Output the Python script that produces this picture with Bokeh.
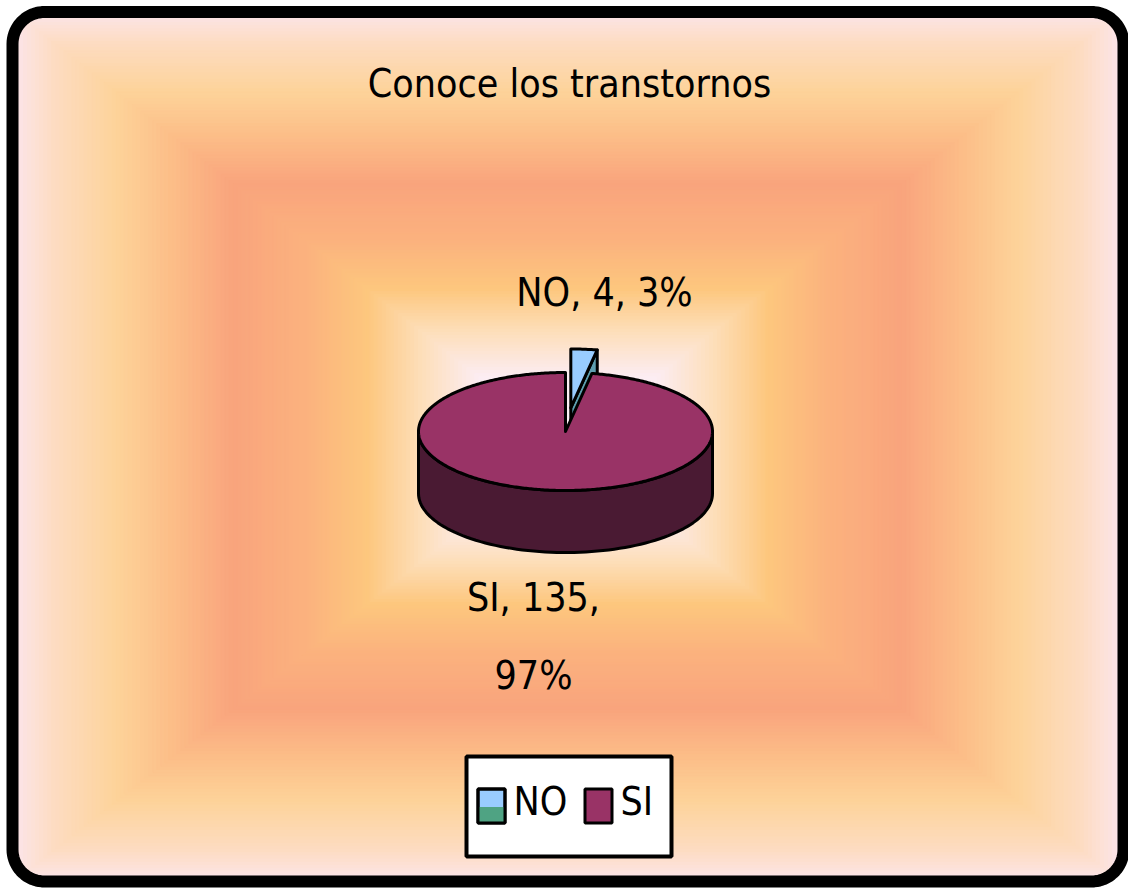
import numpy as np
from bokeh.plotting import figure
from bokeh.models import Range1d, ColumnDataSource
from bokeh.core.properties import value
from bokeh.embed import file_html
from bokeh.resources import INLINE

# ---------------- data ----------------
title_text = "Conoce los transtornos"
categories = ["NO", "SI"]
counts = [4, 135]
top_colors = ["#99CCFF", "#993366"]
side_colors = ["#5E9FB0", "#4A1A33"]
explode = [0.4, 0.0]

# ---------------- figure ----------------
W, H = 1128, 888
p = figure(width=W, height=H, x_range=Range1d(0, W), y_range=Range1d(H, 0),
           output_backend="svg", toolbar_location=None, min_border=0,
           x_axis_location=None, y_axis_location=None)
p.xgrid.visible = False
p.ygrid.visible = False
p.outline_line_color = None
p.background_fill_color = "white"
p.border_fill_color = "white"

FONT = value("DejaVu Sans Condensed, Liberation Sans")
FS = "39px"

# ---------------- rectangular gradient background ----------------
def hex2rgb(h):
    h = h.lstrip("#")
    return np.array([int(h[i:i + 2], 16) for i in (0, 2, 4)], dtype=float)

stop_t = [0.0, 0.16, 0.27, 0.36, 0.47, 0.60, 0.71, 0.81, 0.92, 1.0]
stop_c = ["#FDF2F8", "#FCEDF3", "#FDDDB6", "#FDC77E", "#FBB27E", "#F9A47D",
          "#FCBE88", "#FDD39A", "#FDDCC2", "#FCE6F0"]
stop_rgb = np.array([hex2rgb(c) for c in stop_c])
bcx, bcy, bhw, bhh = 567, 446, 560, 440
ts = np.linspace(1.0, 0.0, 140)
cols = []
for t in ts:
    rgb = [np.interp(t, stop_t, stop_rgb[:, k]) for k in range(3)]
    cols.append("#%02x%02x%02x" % tuple(int(round(v)) for v in rgb))
bg = ColumnDataSource(dict(left=bcx - ts * bhw, right=bcx + ts * bhw,
                           top=bcy - ts * bhh, bottom=bcy + ts * bhh, color=cols))
p.quad(left="left", right="right", top="top", bottom="bottom", fill_color="color",
       line_color="color", line_width=1, source=bg)

# ---------------- rounded frame ----------------
L, R, T, B, rad = 12, 1123, 11.5, 881, 32

def arc(xc, yc, r, a0, a1, n=20):
    a = np.radians(np.linspace(a0, a1, n))
    return list(xc + r * np.cos(a)), list(yc + r * np.sin(a))

corners = [(L + rad, T + rad, 180, 270, -1, -1),
           (R - rad, T + rad, 270, 360, 1, -1),
           (R - rad, B - rad, 0, 90, 1, 1),
           (L + rad, B - rad, 90, 180, -1, 1)]
corner_x, corner_y = [], []
for xc, yc, a0, a1, sx, sy in corners:
    ax, ay = arc(xc, yc, rad, a0, a1)
    ex = xc + sx * (rad + 30)
    ey = yc + sy * (rad + 30)
    st_x, st_y, end_x, end_y = ax[0], ay[0], ax[-1], ay[-1]
    poly_x = list(ax)
    poly_y = list(ay)
    poly_x += [end_x if abs(end_x - xc) < 1 else ex, ex, st_x if abs(st_x - xc) < 1 else ex]
    poly_y += [end_y if abs(end_y - yc) < 1 else ey, ey, st_y if abs(st_y - yc) < 1 else ey]
    corner_x.append(poly_x)
    corner_y.append(poly_y)
p.patches(xs=corner_x, ys=corner_y, fill_color="white", line_color="white", line_width=1)
p.quad(left=[-10, R, -10, -10], right=[L, 1140, 1140, 1140], top=[-10, -10, -10, B],
       bottom=[900, 900, T, 900], fill_color="white", line_color=None)

fx, fy = [], []
for xc, yc, a0, a1 in [(R - rad, T + rad, 270, 360), (R - rad, B - rad, 0, 90),
                       (L + rad, B - rad, 90, 180), (L + rad, T + rad, 180, 270)]:
    ax, ay = arc(xc, yc, rad, a0, a1)
    fx += ax
    fy += ay
p.patch(x=fx, y=fy, fill_color=None, line_color="black", line_width=12, line_join="round")

# ---------------- 3-D pie ----------------
cx, cy, rx, ry, depth = 565, 431, 147, 59, 62
total = float(sum(counts))
fr = [c / total for c in counts]
bounds = np.concatenate([[0.0], np.cumsum(fr) * 360.0])

def pt(theta_deg, ox=0.0, oy=0.0, dz=0.0):
    t = np.radians(theta_deg)
    return cx + ox + rx * np.sin(t), cy + oy - ry * np.cos(t) + dz

for i, cat in enumerate(categories):
    a0, a1 = bounds[i], bounds[i + 1]
    mid = np.radians((a0 + a1) / 2)
    ox = explode[i] * rx * np.sin(mid)
    oy = -explode[i] * ry * np.cos(mid)
    c0 = (cx + ox, cy + oy)
    side_xs, side_ys = [], []
    for a, vis in ((a1, np.sin(np.radians(a1)) > 1e-6), (a0, np.sin(np.radians(a0)) < -1e-6)):
        if vis:
            px, py = pt(a, ox, oy)
            side_xs.append([c0[0], px, px, c0[0]])
            side_ys.append([c0[1], py, py + depth, c0[1] + depth])
    lo, hi = max(a0, 90), min(a1, 270)
    if hi > lo:
        th = np.linspace(lo, hi, 80)
        upx, upy = pt(th, ox, oy)
        dnx, dny = pt(th[::-1], ox, oy, depth)
        side_xs.append(list(upx) + list(dnx))
        side_ys.append(list(upy) + list(dny))
    if side_xs:
        p.patches(xs=side_xs, ys=side_ys, fill_color=side_colors[i], line_color="black",
                  line_width=3, line_join="round")
    th = np.linspace(a0, a1, max(4, int((a1 - a0) * 1.5)))
    ax, ay = pt(th, ox, oy)
    p.patch(x=[c0[0]] + list(ax), y=[c0[1]] + list(ay), fill_color=top_colors[i],
            line_color="black", line_width=3, line_join="round")

# ---------------- data labels ----------------
pcts = [int(round(100 * f)) for f in fr]
label_lines = [[f"{categories[0]}, {counts[0]}, {pcts[0]}%"],
               [f"{categories[1]}, {counts[1]},", f"{pcts[1]}%"]]
label_anchor = [(604, 292), (533, 597)]
lx, ly, lt = [], [], []
for lines, (x0, y0) in zip(label_lines, label_anchor):
    for j, s in enumerate(lines):
        lx.append(x0)
        ly.append(y0 + j * 78)
        lt.append(s)
p.text(x=lx, y=ly, text=lt, text_font=FONT, text_font_size=FS, text_color="black",
       text_align="center", text_baseline="alphabetic")

# ---------------- title ----------------
p.text(x=[569], y=[83], text=[title_text], text_font=FONT, text_font_size=FS,
       text_color="black", text_align="center", text_baseline="alphabetic")

# ---------------- legend ----------------
p.quad(left=[466], right=[671], top=[756], bottom=[856], fill_color="white",
       line_color="black", line_width=4)
leg_x = [491, 598]
p.rect(x=leg_x, y=[805.5] * 2, width=27, height=34, fill_color=top_colors,
       line_color="black", line_width=3)
p.rect(x=[leg_x[0]], y=[814], width=25, height=15, fill_color="#4FA383", line_color=None)
p.rect(x=leg_x[:1], y=[805.5], width=27, height=34, fill_color=None,
       line_color="black", line_width=3)
p.text(x=[513, 620], y=[801, 801], text=categories, text_font=FONT, text_font_size=FS,
       text_color="black", text_align="left", text_baseline="alphabetic")

open("out.html", "w").write(file_html(p, INLINE))
